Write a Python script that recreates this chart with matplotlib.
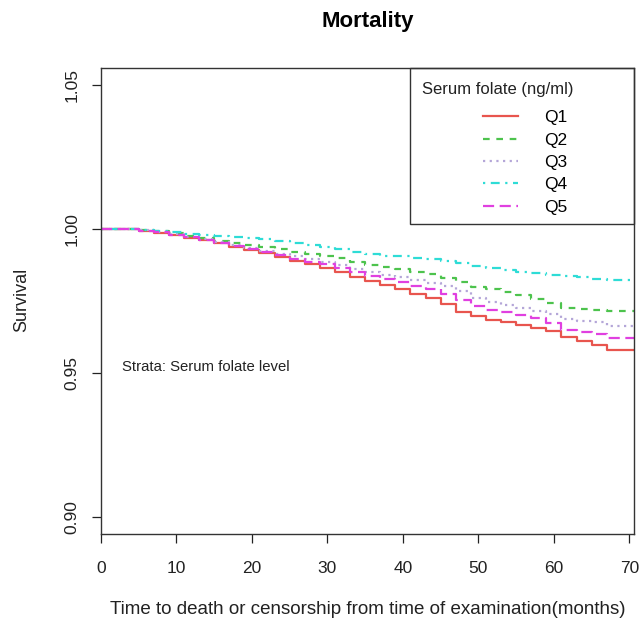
import matplotlib
matplotlib.use("Agg")
import matplotlib.pyplot as plt
from matplotlib.patches import Rectangle

plt.rcParams['font.family'] = ['Liberation Sans', 'DejaVu Sans']

# months since examination (shared step times)
times = [0, 3, 5, 7, 9, 11, 13, 15, 17, 19, 21, 23, 25, 27, 29, 31, 33, 35,
         37, 39, 41, 43, 45, 47, 49, 51, 53, 55, 57, 59, 61, 63, 65, 67, 71]

# Kaplan-Meier survival
q1 = [1.0, 1.0, 0.9993, 0.9987, 0.9978, 0.9970, 0.9962, 0.9952, 0.9937,
      0.9926, 0.9916, 0.9903, 0.9890, 0.9878, 0.9864, 0.9850, 0.9834, 0.9820,
      0.9806, 0.9792, 0.9776, 0.9760, 0.9740, 0.9712, 0.9698, 0.9685, 0.9678,
      0.9666, 0.9657, 0.9645, 0.9625, 0.9612, 0.9598, 0.9579, 0.9579]
q2 = [1.0, 1.0, 0.9997, 0.9992, 0.9985, 0.9977, 0.9968, 0.9960, 0.9952,
      0.9945, 0.9937, 0.9930, 0.9922, 0.9914, 0.9907, 0.9898, 0.9886, 0.9876,
      0.9868, 0.9860, 0.9852, 0.9843, 0.9830, 0.9815, 0.9800, 0.9790, 0.9782,
      0.9770, 0.9758, 0.9742, 0.9725, 0.9722, 0.9718, 0.9715, 0.9715]
q3 = [1.0, 1.0, 0.9996, 0.9990, 0.9982, 0.9974, 0.9964, 0.9954, 0.9944,
      0.9935, 0.9925, 0.9915, 0.9905, 0.9895, 0.9887, 0.9876, 0.9862, 0.9850,
      0.9840, 0.9832, 0.9823, 0.9814, 0.9802, 0.9785, 0.9760, 0.9745, 0.9736,
      0.9724, 0.9715, 0.9705, 0.9686, 0.9682, 0.9678, 0.9662, 0.9662]
q4 = [1.0, 1.0, 0.9998, 0.9995, 0.9989, 0.9983, 0.9979, 0.9975, 0.9972,
      0.9968, 0.9964, 0.9958, 0.9951, 0.9944, 0.9937, 0.9929, 0.9920, 0.9912,
      0.9908, 0.9905, 0.9901, 0.9896, 0.9889, 0.9881, 0.9873, 0.9866, 0.9859,
      0.9851, 0.9847, 0.9842, 0.9838, 0.9834, 0.9828, 0.9823, 0.9823]
q5 = [1.0, 1.0, 0.9995, 0.9989, 0.9980, 0.9972, 0.9963, 0.9952, 0.9941,
      0.9931, 0.9921, 0.9909, 0.9897, 0.9886, 0.9878, 0.9866, 0.9851, 0.9838,
      0.9826, 0.9815, 0.9803, 0.9790, 0.9776, 0.9755, 0.9733, 0.9718, 0.9710,
      0.9701, 0.9690, 0.9675, 0.9650, 0.9642, 0.9634, 0.9623, 0.9623]

labels = ['Q1', 'Q2', 'Q3', 'Q4', 'Q5']
series = [q1, q2, q3, q4, q5]
colors = ['#E8554E', '#4DC34D', '#B4A6D8', '#2EDCD6', '#E040E0']
styles = ['-', (0, (3, 3)), (0, (1, 2)), (0, (1, 2.5, 4, 2.5)), (0, (5, 2.5))]

xticks = [0, 10, 20, 30, 40, 50, 60, 70]
yticks = [0.90, 0.95, 1.00, 1.05]

fig = plt.figure(figsize=(6.39, 6.22), dpi=100)
ax = fig.add_axes([0.158, 0.1415, 0.834, 0.7492])

handles = []
for vals, lab, col, ls in zip(series, labels, colors, styles):
    h, = ax.plot(times, vals, drawstyle='steps-post', color=col,
                 linestyle=ls, linewidth=1.6, label=lab)
    handles.append(h)

ax.set_xlim(0, 70.6)
ax.set_ylim(0.894, 1.056)
ax.set_xticks(xticks)
ax.set_xticklabels([str(t) for t in xticks])
ax.set_yticks(yticks)
ax.set_yticklabels(['%.2f' % v for v in yticks], rotation=90, va='center')
ax.tick_params(direction='out', length=6.5, width=0.9, labelsize=12.5,
               colors='#222222')
ax.tick_params(axis='x', pad=13)
ax.tick_params(axis='y', pad=9)
for sp in ax.spines.values():
    sp.set_color('#333333')
    sp.set_linewidth(1.0)

# legend box drawn like R's legend()
ax.add_patch(Rectangle((0.580, 0.665), 0.42, 0.335, transform=ax.transAxes,
                       fill=False, edgecolor='#333333', linewidth=1.0,
                       clip_on=False))
ax.text(0.603, 0.954, 'Serum folate (ng/ml)', transform=ax.transAxes,
        fontsize=12, va='center', ha='left', color='#222222')
ax.legend(handles=handles, loc='upper left', frameon=False,
          bbox_to_anchor=(483 / 639, 1 - 110 / 622),
          bbox_transform=fig.transFigure, borderpad=0, borderaxespad=0,
          fontsize=12.5, handlelength=2.0, handletextpad=1.5,
          labelspacing=0.42)

ax.text(0.039, 0.358, 'Strata: Serum folate level', transform=ax.transAxes,
        fontsize=10.7, va='center', ha='left', color='#222222')

fig.text(368 / 639, 1 - 22 / 622, 'Mortality', fontsize=16,
         fontweight='bold', ha='center', va='center')
fig.text(368 / 639, 1 - 610 / 622,
         'Time to death or censorship from time of examination(months)',
         fontsize=13.5, ha='center', va='center', color='#222222')
fig.text(22 / 639, 1 - 300 / 622, 'Survival', fontsize=13, rotation=90,
         ha='center', va='center', color='#222222')

fig.savefig('out.png', dpi=100)
